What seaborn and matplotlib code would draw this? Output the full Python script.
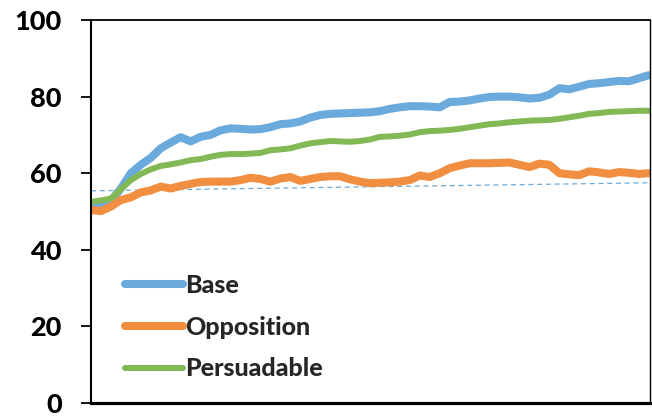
import numpy as np
import pandas as pd
import matplotlib
matplotlib.use("Agg")
import matplotlib.pyplot as plt
import seaborn as sns

# ---- data ----
base = [50.9, 51.7, 52.8, 56.0, 60.0, 62.2, 64.0, 66.5, 68.0, 69.4,
        68.3, 69.5, 70.0, 71.2, 71.7, 71.6, 71.4, 71.5, 72.0, 72.8,
        73.0, 73.5, 74.5, 75.2, 75.5, 75.6, 75.7, 75.8, 75.9, 76.2,
        76.8, 77.2, 77.5, 77.5, 77.4, 77.2, 78.6, 78.7, 79.0, 79.5,
        79.9, 80.0, 80.0, 79.8, 79.5, 79.7, 80.5, 82.2, 81.9, 82.6,
        83.3, 83.5, 83.8, 84.1, 84.0, 84.8, 85.6]
opposition = [50.4, 50.1, 51.3, 53.0, 53.7, 55.0, 55.5, 56.5, 56.0, 56.7,
              57.2, 57.7, 57.8, 57.8, 57.8, 58.2, 58.8, 58.5, 57.8, 58.6,
              59.0, 58.0, 58.5, 59.0, 59.2, 59.2, 58.4, 57.8, 57.4, 57.5,
              57.6, 57.8, 58.2, 59.4, 59.0, 60.0, 61.3, 62.0, 62.6, 62.6,
              62.6, 62.7, 62.8, 62.2, 61.6, 62.5, 62.2, 60.0, 59.7, 59.5,
              60.5, 60.2, 59.8, 60.3, 60.1, 59.8, 60.0]
persuadable = [52.5, 52.9, 53.4, 55.8, 58.2, 59.8, 61.0, 61.9, 62.3, 62.8,
               63.4, 63.7, 64.3, 64.8, 65.0, 65.0, 65.1, 65.3, 66.0, 66.2,
               66.5, 67.2, 67.8, 68.1, 68.4, 68.3, 68.2, 68.4, 68.8, 69.5,
               69.6, 69.8, 70.1, 70.7, 71.0, 71.1, 71.3, 71.6, 72.0, 72.4,
               72.8, 73.0, 73.3, 73.5, 73.7, 73.8, 73.9, 74.2, 74.6, 75.0,
               75.5, 75.7, 76.0, 76.1, 76.2, 76.3, 76.3]
trend_ends = [55.4, 57.5]
series_names = ["Base", "Opposition", "Persuadable"]
y_ticks = [0, 20, 40, 60, 80, 100]

colors = {"Base": "#6aaadc", "Opposition": "#f28e3f", "Persuadable": "#82b955"}
widths = {"Base": 5.8, "Opposition": 5.8, "Persuadable": 4.3}

x = np.arange(len(base))
df = pd.DataFrame({"x": x, "Base": base, "Opposition": opposition,
                   "Persuadable": persuadable})
long = df.melt(id_vars="x", var_name="series", value_name="value")

sns.set_theme(style="white")
plt.rcParams['font.family'] = ['Lato', 'DejaVu Sans']

fig = plt.figure(figsize=(6.52, 4.16), dpi=100)
ax = fig.add_axes([91 / 652, 13 / 416, (650 - 91) / 652, 383 / 416])

# trend line
sns.lineplot(x=[x[0], x[-1]], y=trend_ends, color=colors["Base"], linewidth=0.9,
             linestyle=(0, (4, 3)), ax=ax, legend=False)

handles = []
for name in series_names:
    sub = long[long["series"] == name]
    sns.lineplot(data=sub, x="x", y="value", color=colors[name],
                 linewidth=widths[name], ax=ax, legend=False,
                 solid_capstyle="round", solid_joinstyle="round")
    handles.append(ax.lines[-1])

ax.set_xlim(0, x[-1] + 0.1)
ax.set_ylim(0, 100)
ax.set_yticks(y_ticks)
ax.set_yticklabels([str(t) for t in y_ticks], fontsize=19.5, fontweight="black")
ax.set_xticks([])
ax.set_xlabel("")
ax.set_ylabel("")
ax.tick_params(axis="y", direction="out", length=7, width=1.3, pad=14,
               left=True, colors="black")

for side, lw in {"left": 1.5, "bottom": 2.3, "top": 1.3, "right": 1.0}.items():
    ax.spines[side].set_visible(True)
    ax.spines[side].set_color("black")
    ax.spines[side].set_linewidth(lw)

leg = ax.legend(handles, series_names, loc="upper left",
                bbox_to_anchor=(0.061, 0.337), frameon=False,
                prop=dict(weight="black", size=18), handlelength=2.3,
                handletextpad=0.1, labelspacing=0.75, borderaxespad=0,
                borderpad=0)

fig.savefig("out.png", dpi=100)
